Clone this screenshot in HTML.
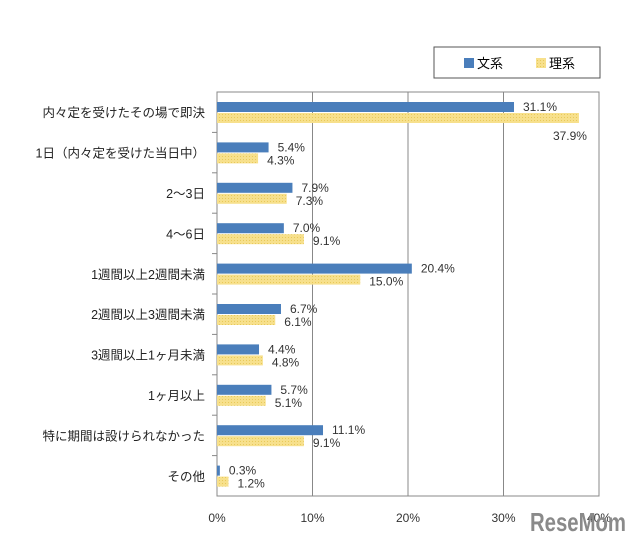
<!DOCTYPE html>
<html><head><meta charset="utf-8">
<style>
body{margin:0;background:#fff;width:640px;height:540px;overflow:hidden}
svg text{font-family:"Liberation Sans","Noto Sans CJK JP",sans-serif}
</style></head><body>
<svg id="chart" width="640" height="540" xmlns="http://www.w3.org/2000/svg">
<defs>
<pattern id="hatch" width="3" height="3" patternUnits="userSpaceOnUse">
<rect width="3" height="3" fill="#f7e08c"/>
<rect width="1" height="1" fill="#e8c95a"/>
</pattern>
</defs>
<rect x="434" y="47" width="166" height="31" fill="#fff" stroke="#555" stroke-width="1"/>
<rect x="464" y="58" width="10" height="10" fill="#4a7ebb"/>
<text x="477" y="68" font-size="13">文系</text>
<rect x="536" y="58" width="10" height="10" fill="url(#hatch)"/>
<text x="549" y="68" font-size="13">理系</text>
<g id="plot"></g>
<text x="530" y="531" font-size="26" font-weight="bold" fill="#8a8a8a" textLength="96" lengthAdjust="spacingAndGlyphs">ReseMom</text>
</svg>
<script>
const categories=["内々定を受けたその場で即決","1日（内々定を受けた当日中）","2～3日","4～6日","1週間以上2週間未満","2週間以上3週間未満","3週間以上1ヶ月未満","1ヶ月以上","特に期間は設けられなかった","その他"];
const bunkei=[31.1,5.4,7.9,7.0,20.4,6.7,4.4,5.7,11.1,0.3];
const rikei=[37.9,4.3,7.3,9.1,15.0,6.1,4.8,5.1,9.1,1.2];
const ticks=[0,10,20,30,40];
const X0=217,X1=599,Y0=92,Y1=496,XMAX=40;
const NS="http://www.w3.org/2000/svg";
const g=document.getElementById('plot');
const x=v=>X0+(X1-X0)*v/XMAX;
const band=(Y1-Y0)/categories.length;
function mk(t,a){const e=document.createElementNS(NS,t);for(const k in a)e.setAttribute(k,a[k]);g.appendChild(e);return e;}
ticks.forEach((t,i)=>{
 const l=mk('line',{x1:x(t),x2:x(t),y1:Y0,y2:Y1,stroke:'#888','stroke-width':1});
 
 
 const tx=mk('text',{x:x(t),y:522,'font-size':12,'text-anchor':'middle',fill:'#333'});
 tx.textContent=t+'%';
 
 
});
const fr=mk('rect',{x:X0,y:Y0,width:X1-X0,height:Y1-Y0,fill:'none',stroke:'#888','stroke-width':1});


categories.forEach((c,i)=>{
 const top=Y0+band*i;
 if(i>0){const tk=mk('line',{x1:X0-5,x2:X0,y1:top,y2:top,stroke:'#888'});
 
 }
 const lb=mk('text',{x:205,y:top+band/2+5,'font-size':12.5,'text-anchor':'end',fill:'#222'});
 lb.textContent=c;
 
 
 const b=mk('rect',{x:X0,y:top+10,width:x(bunkei[i])-X0,height:10,fill:'#4a7ebb'});
 
 
 const r=mk('rect',{x:X0,y:top+21,width:x(rikei[i])-X0,height:10,fill:'url(#hatch)'});
 
 
 const bl=mk('text',{x:x(bunkei[i])+9,y:top+19,'font-size':12,fill:'#333'});
 bl.textContent=bunkei[i].toFixed(1)+'%';
 
 
 let rx=x(rikei[i])+9,ry=top+32;
 if(rx+36>X1){rx=x(rikei[i])-26;ry=top+48;}
 const rl=mk('text',{x:rx,y:ry,'font-size':12,fill:'#333'});
 rl.textContent=rikei[i].toFixed(1)+'%';
 
 
});
</script>
</body></html>
